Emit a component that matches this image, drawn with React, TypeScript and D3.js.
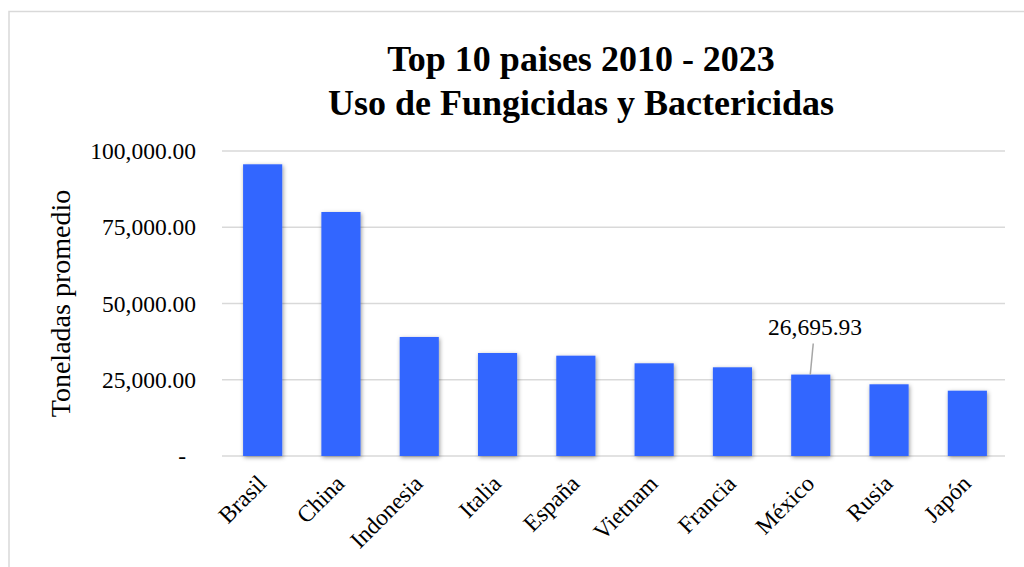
import React from "react";
import * as d3 from "d3";

const countries = ["Brasil", "China", "Indonesia", "Italia", "España", "Vietnam", "Francia", "México", "Rusia", "Japón"];
const avgTonnes = [95640, 80000, 39020, 33770, 32890, 30390, 29080, 26695.93, 23510, 21410];
const yTicks = [0, 25000, 50000, 75000, 100000];
const titleLines = ["Top 10 paises 2010 - 2023", "Uso de Fungicidas y Bactericidas"];
const yTitle = "Toneladas promedio";
const labelledCountry = "México";

const W = 1024;
const H = 567;
const FONT = "'Liberation Serif', 'Times New Roman', Times, serif";

const fmt = d3.format(",.2f");
const tickFmt = (v: number) => (v === 0 ? "-" : fmt(v));

export default function App() {
  const x = d3
    .scaleBand<string>()
    .domain(countries)
    .range([223.5, 1006.5])
    .paddingInner(0.5)
    .paddingOuter(0.25);
  const y = d3.scaleLinear().domain([0, 100000]).range([456, 151]);

  const li = countries.indexOf(labelledCountry);
  const lx = (x(labelledCountry) ?? 0) + x.bandwidth() / 2;
  const ly = y(avgTonnes[li]);

  return (
    <svg
      width={W}
      height={H}
      style={{ position: "absolute", left: 0, top: 0, background: "#fff" }}
      fontFamily={FONT}
    >
      <defs>
        <filter id="barShadow" x="-30%" y="-10%" width="160%" height="130%">
          <feDropShadow dx="1" dy="1.5" stdDeviation="2" floodColor="#000" floodOpacity="0.4" />
        </filter>
      </defs>
      <rect x={9} y={11.5} width={W + 10} height={H + 10} fill="#fff" stroke="#d9d9d9" strokeWidth={1.5} />

      {/* title */}
      <text textAnchor="middle" fontWeight="bold" fontSize={36} fill="#000">
        <tspan x={581} y={71}>{titleLines[0]}</tspan>
        <tspan x={581} y={115}>{titleLines[1]}</tspan>
      </text>

      {/* gridlines and y tick labels */}
      {yTicks.map((t) => (
        <g key={t}>
          <line x1={222} x2={1005} y1={y(t)} y2={y(t)} stroke="#d9d9d9" strokeWidth={1.5} />
          <text
            x={t === 0 ? 186 : 196}
            y={y(t)}
            dy="0.35em"
            textAnchor="end"
            fontSize={23.5}
            fill="#000"
          >
            {tickFmt(t)}
          </text>
        </g>
      ))}

      {/* y axis title */}
      <text
        transform={`translate(60,303.5) rotate(-90)`}
        textAnchor="middle"
        dy="0.35em"
        fontSize={28}
        fill="#000"
      >
        {yTitle}
      </text>

      {/* bars */}
      <g filter="url(#barShadow)">
        {countries.map((c, i) => (
          <rect
            key={c}
            x={x(c)}
            y={y(avgTonnes[i])}
            width={x.bandwidth()}
            height={y(0) - y(avgTonnes[i])}
            fill="#3366ff"
          />
        ))}
      </g>

      {/* x labels */}
      {countries.map((c) => {
        const cx = (x(c) ?? 0) + x.bandwidth() / 2;
        return (
          <text
            key={c}
            transform={`translate(${cx + 5},485) rotate(-45)`}
            textAnchor="end"
            fontSize={23.5}
            fill="#000"
          >
            {c}
          </text>
        );
      })}

      {/* data label with leader line */}
      <line x1={lx - 0.5} y1={ly} x2={lx + 2.5} y2={343.5} stroke="#a6a6a6" strokeWidth={1.5} />
      <text x={815} y={335} textAnchor="middle" fontSize={23.5} fill="#000">
        {fmt(avgTonnes[li])}
      </text>
    </svg>
  );
}
